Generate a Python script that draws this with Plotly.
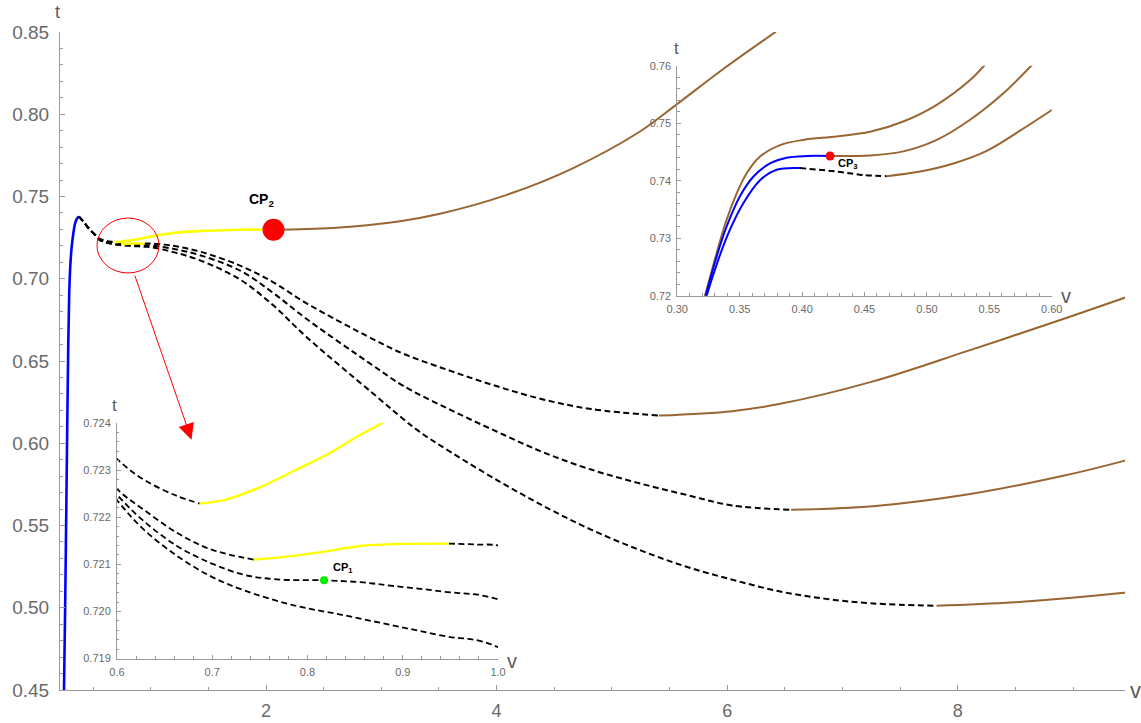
import plotly.graph_objects as go

# ---------------- main chart data (v, t) ----------------
blue_v = [0.248, 0.258, 0.268, 0.277, 0.285, 0.293, 0.302, 0.315, 0.330, 0.345, 0.360, 0.378]
blue_t = [0.450, 0.500, 0.560, 0.615, 0.660, 0.690, 0.707, 0.7196, 0.728, 0.7338, 0.7365, 0.7378]

A_dash_v = [0.378, 0.4154, 0.4736, 0.53, 0.5603, 0.6, 0.628, 0.663, 0.6868]
A_dash_t = [0.7378, 0.7348, 0.7298, 0.7260, 0.7242, 0.72324, 0.7228, 0.72245, 0.72229]
A_yel_v = [0.6868, 0.7155, 0.7505, 0.7855, 0.8205, 0.8555, 0.8793, 0.907, 1.193, 1.486, 1.774, 2.065]
A_yel_t = [0.72229, 0.72238, 0.72264, 0.72298, 0.72333, 0.72375, 0.72401, 0.7244, 0.7278, 0.7292, 0.7298, 0.7298]
A_brown_v = [2.065, 2.581, 3.162, 3.509, 4.088, 4.665, 5.244, 5.562, 5.966, 6.423]
A_brown_t = [0.7298, 0.7308, 0.7350, 0.7395, 0.7510, 0.7673, 0.7895, 0.8060, 0.8275, 0.8502]

B_dash1_v = [0.378, 0.4154, 0.4736, 0.53, 0.5603, 0.6, 0.628, 0.663, 0.698, 0.7435]
B_dash1_t = [0.7378, 0.7348, 0.7298, 0.7258, 0.7236, 0.7226, 0.72216, 0.72167, 0.72132, 0.72110]
B_yel_v = [0.7435, 0.7855, 0.8205, 0.8555, 0.8905, 0.9483]
B_yel_t = [0.72110, 0.72118, 0.72128, 0.72139, 0.72143, 0.72144]
B_dash2_v = [0.9483, 0.978, 1.0025, 1.196, 1.428, 1.775, 2.06, 2.353, 2.931, 3.188, 3.596,
             4.004, 4.411, 4.819, 5.408]
B_dash2_t = [0.72144, 0.72142, 0.72139, 0.7200, 0.7165, 0.7080, 0.6980, 0.6850, 0.6632, 0.6545, 0.6441,
             0.6346, 0.6265, 0.6208, 0.6168]
B_brown_v = [5.408, 6.042, 6.45, 7.265, 8.080, 8.895, 9.441, 9.5]
B_brown_t = [0.6168, 0.6195, 0.6238, 0.6376, 0.6560, 0.6751, 0.6883, 0.6898]

C_dash_v = [0.378, 0.4154, 0.4736, 0.53, 0.5603, 0.6, 0.628, 0.663, 0.698, 0.733, 0.768, 0.8174,
            0.8555, 0.8905, 0.943, 1.0025, 1.196, 1.428, 1.775, 2.06, 2.353, 2.931, 3.188, 3.596,
            4.004, 4.411, 4.819, 5.226, 5.634, 6.042, 6.554]
C_dash_t = [0.7378, 0.7348, 0.7298, 0.7258, 0.7235, 0.72248, 0.72192, 0.72139, 0.72103, 0.72078, 0.72068, 0.72066,
            0.72062, 0.72054, 0.72042, 0.72024, 0.7182, 0.7143, 0.7050, 0.6915, 0.6755, 0.6471, 0.6350, 0.6204,
            0.6070, 0.5943, 0.5840, 0.5759, 0.5688, 0.5622, 0.5595]
C_brown_v = [6.554, 7.265, 8.080, 8.895, 9.441, 9.5]
C_brown_t = [0.5595, 0.5617, 0.5688, 0.5799, 0.5893, 0.5905]

D_dash_v = [0.378, 0.4154, 0.4736, 0.53, 0.5603, 0.6, 0.628, 0.663, 0.698, 0.733, 0.7855, 0.838,
            0.8905, 0.943, 0.999, 1.196, 1.428, 1.775, 2.06, 2.353, 2.931, 3.307, 3.596, 4.004,
            4.411, 4.819, 5.226, 5.634, 6.042, 6.45, 6.857, 7.265, 7.815]
D_dash_t = [0.7378, 0.7348, 0.7298, 0.7258, 0.7234, 0.72236, 0.72174, 0.72118, 0.72075, 0.72045, 0.72013, 0.71992,
            0.71970, 0.71948, 0.71925, 0.7162, 0.7112, 0.6995, 0.6840, 0.6645, 0.6301, 0.6083, 0.5949, 0.5776,
            0.5617, 0.5475, 0.5355, 0.5252, 0.5171, 0.5100, 0.5054, 0.5026, 0.5012]
D_brown_v = [7.815, 8.487, 9.441, 9.5]
D_brown_t = [0.5012, 0.5033, 0.5091, 0.5096]

CP2 = (2.065, 0.7298)
CP1 = (0.8174, 0.72066)

# ---------------- upper-right inset data ----------------
U1_brown_v = [0.316, 0.3222, 0.3315, 0.3395, 0.3476, 0.3556, 0.3663, 0.3823, 0.401, 0.4277, 0.4544,
              0.4811, 0.5079, 0.5346, 0.5466]
U1_brown_t = [0.715, 0.72, 0.7274, 0.7332, 0.7378, 0.7413, 0.7442, 0.7462, 0.7471, 0.7477, 0.7485,
              0.7503, 0.7532, 0.7575, 0.7602]
U2_blue_v = [0.316, 0.3227, 0.3315, 0.3395, 0.3502, 0.3609, 0.3743, 0.3876, 0.4037, 0.4224]
U2_blue_t = [0.7146, 0.72, 0.7268, 0.732, 0.7373, 0.7407, 0.743, 0.744, 0.7443, 0.7443]
U2_brown_v = [0.4224, 0.4544, 0.4811, 0.5079, 0.5346, 0.5613, 0.5845]
U2_brown_t = [0.7443, 0.7444, 0.7451, 0.7471, 0.7506, 0.7552, 0.7602]
U3_blue_v = [0.317, 0.3235, 0.3329, 0.3422, 0.3529, 0.3663, 0.3796, 0.3983]
U3_blue_t = [0.7148, 0.72, 0.7263, 0.7315, 0.7361, 0.7401, 0.7419, 0.7422]
U3_dash_v = [0.3983, 0.4277, 0.4491, 0.4678]
U3_dash_t = [0.7422, 0.7416, 0.7410, 0.7408]
U3_brown_v = [0.4678, 0.4945, 0.5212, 0.5479, 0.5746, 0.6008]
U3_brown_t = [0.7408, 0.7416, 0.7430, 0.7452, 0.7487, 0.7524]
CP3 = (0.4224, 0.7443)

BLUE = "#0000FF"
YEL = "#FFFF00"
BROWN = "#996633"
BLACK = "#000000"
DASH = "6px,3.5px"
FONT = "Liberation Sans, Arial, sans-serif"


def line(v, t, color, xa, ya, dash=None, width=2.0):
    return go.Scatter(x=v, y=t, mode="lines", xaxis=xa, yaxis=ya,
                      line=dict(color=color, width=width, dash=dash, shape="spline", smoothing=1.0),
                      hoverinfo="skip", showlegend=False)


fig = go.Figure()

main_segments = [
    (A_dash_v, A_dash_t, BLACK, DASH),
    (B_dash1_v, B_dash1_t, BLACK, DASH),
    (B_dash2_v, B_dash2_t, BLACK, DASH),
    (C_dash_v, C_dash_t, BLACK, DASH),
    (D_dash_v, D_dash_t, BLACK, DASH),
    (A_yel_v, A_yel_t, YEL, None),
    (B_yel_v, B_yel_t, YEL, None),
    (A_brown_v, A_brown_t, BROWN, None),
    (B_brown_v, B_brown_t, BROWN, None),
    (C_brown_v, C_brown_t, BROWN, None),
    (D_brown_v, D_brown_t, BROWN, None),
]

# main plot
fig.add_trace(line(blue_v, blue_t, BLUE, "x", "y", width=2.6))
for v, t, c, d in main_segments:
    w = 2.6 if c == YEL else 2.0
    fig.add_trace(line(v, t, c, "x", "y", dash=d, width=w))
fig.add_trace(go.Scatter(x=[CP2[0]], y=[CP2[1]], mode="markers", xaxis="x", yaxis="y",
                         marker=dict(color="#FF0000", size=22), hoverinfo="skip", showlegend=False))

# lower-left inset (zoom of the same curves)
for v, t, c, d in main_segments:
    if c == BROWN:
        continue
    w = 2.4 if c == YEL else 1.8
    fig.add_trace(line(v, t, c, "x2", "y2", dash=d, width=w))
fig.add_trace(go.Scatter(x=[CP1[0]], y=[CP1[1]], mode="markers", xaxis="x2", yaxis="y2",
                         marker=dict(color="#00EE00", size=8), hoverinfo="skip", showlegend=False))

# upper-right inset
for v, t, c, d in [
    (U1_brown_v, U1_brown_t, BROWN, None),
    (U2_blue_v, U2_blue_t, BLUE, None),
    (U2_brown_v, U2_brown_t, BROWN, None),
    (U3_blue_v, U3_blue_t, BLUE, None),
    (U3_dash_v, U3_dash_t, BLACK, DASH),
    (U3_brown_v, U3_brown_t, BROWN, None),
]:
    fig.add_trace(line(v, t, c, "x3", "y3", dash=d, width=2.0))
fig.add_trace(go.Scatter(x=[CP3[0]], y=[CP3[1]], mode="markers", xaxis="x3", yaxis="y3",
                         marker=dict(color="#FF0000", size=9), hoverinfo="skip", showlegend=False))

AX = "#9a9a9a"
TXT = "#6a6a6a"


def axis(rng, dtick, minor, fmt, size, domain, anchor, tick0=0, standoff=3):
    big = size > 14
    return dict(range=rng, domain=domain, anchor=anchor, showline=True, linecolor=AX, linewidth=1,
                ticks="inside", ticklen=5 if big else 4, tickcolor=AX, tickwidth=1,
                tick0=tick0, dtick=dtick, tickformat=fmt, showgrid=False, zeroline=False,
                tickfont=dict(size=size, color=TXT, family=FONT), ticklabelstandoff=standoff,
                minor=dict(ticks="inside", ticklen=3 if big else 2.5, dtick=minor,
                           tickcolor=AX, tickwidth=1, showgrid=False),
                automargin=False, fixedrange=True)


fig.update_layout(
    width=1141, height=723,
    margin=dict(l=60, r=16, t=32, b=32.5, autoexpand=False),
    paper_bgcolor="white", plot_bgcolor="rgba(0,0,0,0)",
    xaxis=axis([0.2134, 9.4501], 2, 0.5, "d", 18, [0, 1], "y", standoff=4),
    yaxis=axis([0.45, 0.85], 0.05, 0.01, ".2f", 19, [0, 1], "x", standoff=6),
    xaxis2=axis([0.6, 1.0], 0.1, 0.02, ".1f", 11, [0.0535, 0.4113], "y2", tick0=0.6),
    yaxis2=axis([0.719, 0.724], 0.001, 0.0002, ".3f", 11, [0.0478, 0.4058], "x2", tick0=0.719),
    xaxis3=axis([0.30, 0.60], 0.05, 0.01, ".2f", 11, [0.5796, 0.9312], "y3", tick0=0.3),
    yaxis3=axis([0.72, 0.76], 0.01, 0.002, ".2f", 11, [0.5991, 0.9488], "x3", tick0=0.72),
    showlegend=False,
)

shapes = [dict(type="circle", xref="x", yref="y", x0=0.534, x1=1.072, y0=0.7035, y1=0.7369,
               line=dict(color="#FF0000", width=1), layer="above")]
fig.update_layout(shapes=shapes)

ann = []
# axis titles
ann.append(dict(x=-0.002, y=1.0486, xref="paper", yref="paper", text="t", showarrow=False,
                font=dict(size=18, color="#5a5a5a", family=FONT), xanchor="center", yanchor="top"))
for x, y, txt, s in [(1.0094, 0.0, "v", 22),
                     (0.0516, 0.432, "t", 17), (0.4245, 0.0437, "v", 20),
                     (0.5791, 0.9752, "t", 17), (0.9445, 0.5985, "v", 20)]:
    ann.append(dict(x=x, y=y, xref="paper", yref="paper", text=txt, showarrow=False,
                    font=dict(size=s, color="#5a5a5a", family=FONT), xanchor="center", yanchor="middle"))
# critical-point labels
ann.append(dict(x=1.965, y=0.748, xref="x", yref="y", text="<b>CP<sub>2</sub></b>", showarrow=False,
                font=dict(size=14, color="black", family=FONT)))
ann.append(dict(x=0.8373, y=0.72093, xref="x2", yref="y2", text="<b>CP<sub>1</sub></b>", showarrow=False,
                font=dict(size=11, color="black", family=FONT)))
ann.append(dict(x=0.4371, y=0.7429, xref="x3", yref="y3", text="<b>CP<sub>3</sub></b>", showarrow=False,
                font=dict(size=11, color="black", family=FONT)))
# red arrow from circle to inset
ann.append(dict(x=1.354, y=0.6022, ax=0.858, ay=0.7029, xref="x", yref="y", axref="x", ayref="y",
                text="", showarrow=True, arrowhead=2, arrowsize=3.2, arrowwidth=1, arrowcolor="#FF0000",
                standoff=0, startstandoff=0))
fig.update_layout(annotations=ann)

# remove the browser's default 8px body margin so the figure fills the window exactly
fig.write_html("out.html", config={"displayModeBar": False},
               post_script="document.body.style.margin='0';document.body.style.overflow='hidden';")
